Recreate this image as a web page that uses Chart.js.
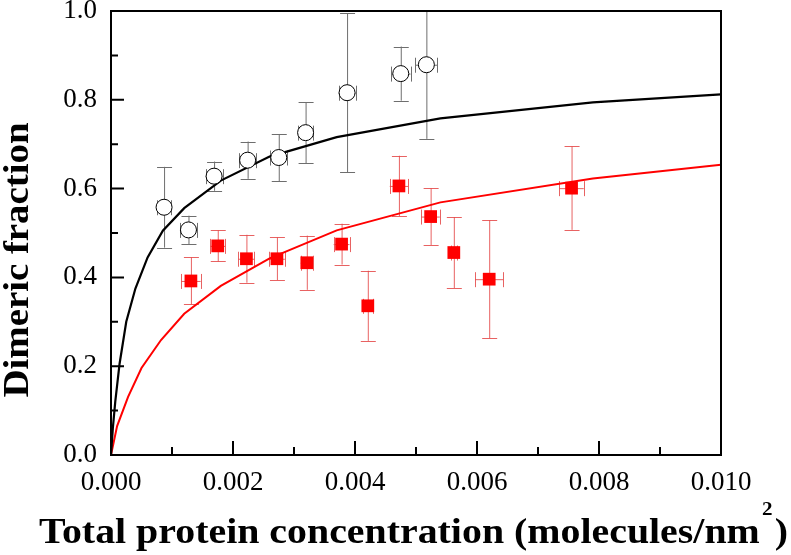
<!DOCTYPE html>
<html>
<head>
<meta charset="utf-8">
<script src="https://cdn.jsdelivr.net/npm/chart.js@4"></script>
<style>
html, body { margin: 0; padding: 0; background: #fff; }
</style>
</head>
<body>
<canvas id="c" width="791" height="555"></canvas>
<script>
// measured points (open circles, black)
const blackX = [0.00087, 0.00127, 0.00169, 0.00224, 0.00275, 0.00319, 0.00387, 0.00475, 0.00517];
const blackY = [0.558, 0.507, 0.628, 0.664, 0.670, 0.726, 0.816, 0.859, 0.879];
const blackYErr = [0.091, 0.032, 0.033, 0.042, 0.053, 0.069, 0.179, 0.061, 0.167];
const blackXErr = [0.00012, 0.00014, 0.00014, 0.00014, 0.00014, 0.00012, 0.00014, 0.00016, 0.00018];

// measured points (filled squares, red)
const redX = [0.00131, 0.00175, 0.00222, 0.00272, 0.00321, 0.00378, 0.00421, 0.00472, 0.00524, 0.00562, 0.00620, 0.00755];
const redY = [0.392, 0.471, 0.442, 0.442, 0.433, 0.475, 0.336, 0.606, 0.537, 0.456, 0.396, 0.601];
const redYErr = [0.053, 0.035, 0.054, 0.048, 0.061, 0.046, 0.079, 0.068, 0.064, 0.080, 0.133, 0.094];
const redXErr = [0.00016, 0.00012, 0.00013, 0.00013, 0.00010, 0.00013, 0.00008, 0.00015, 0.00015, 0.00005, 0.00023, 0.00020];

// fitted curves
const fitBlackX = [0, 0.00003, 0.00007, 0.00014, 0.00025, 0.0004, 0.0006, 0.00085, 0.0012, 0.0018, 0.0026, 0.0037, 0.0054, 0.0079, 0.01];
const fitBlackY = [0, 0.06, 0.12, 0.205, 0.30, 0.375, 0.445, 0.505, 0.556, 0.618, 0.672, 0.716, 0.758, 0.794, 0.812];
const fitRedX = [0, 0.0001, 0.00028, 0.0005, 0.00082, 0.0012, 0.0018, 0.0026, 0.0037, 0.0054, 0.0079, 0.01];
const fitRedY = [0, 0.065, 0.131, 0.196, 0.259, 0.318, 0.381, 0.443, 0.506, 0.569, 0.623, 0.654];

const xTitle = 'Total protein concentration (molecules/nm';
const xTitleSup = '2';
const yTitle = 'Dimeric fraction';

const pts = (xs, ys) => xs.map((x, i) => ({ x, y: ys[i] }));
const SERIF = '"Liberation Serif", "Times New Roman", serif';

// error bars, frame, inward ticks, titles
const decor = {
  id: 'decor',
  beforeDatasetsDraw(chart) {
    const { ctx, chartArea: a, scales: { x, y } } = chart;
    ctx.save();
    ctx.beginPath();
    ctx.rect(a.left, a.top, a.right - a.left, a.bottom - a.top);
    ctx.clip();
    chart.data.datasets.forEach(ds => {
      if (!ds.yErr) return;
      ctx.strokeStyle = ds.barColor;
      ctx.lineWidth = 1;
      ds.data.forEach((p, i) => {
        const px = x.getPixelForValue(p.x);
        const py = y.getPixelForValue(p.y);
        const t = y.getPixelForValue(p.y + ds.yErr[i]);
        const b = y.getPixelForValue(p.y - ds.yErr[i]);
        const l = x.getPixelForValue(p.x - ds.xErr[i]);
        const r = x.getPixelForValue(p.x + ds.xErr[i]);
        ctx.beginPath();
        ctx.moveTo(px + 0.5, t); ctx.lineTo(px + 0.5, b);
        ctx.moveTo(px - 7, Math.round(t) + 0.5); ctx.lineTo(px + 8, Math.round(t) + 0.5);
        ctx.moveTo(px - 7, Math.round(b) + 0.5); ctx.lineTo(px + 8, Math.round(b) + 0.5);
        ctx.moveTo(l, py + 0.5); ctx.lineTo(r, py + 0.5);
        ctx.moveTo(Math.round(l) + 0.5, py - 7); ctx.lineTo(Math.round(l) + 0.5, py + 8);
        ctx.moveTo(Math.round(r) + 0.5, py - 7); ctx.lineTo(Math.round(r) + 0.5, py + 8);
        ctx.stroke();
      });
    });
    ctx.restore();
  },
  afterDatasetsDraw(chart) {
    const { ctx, chartArea: a, scales: { x, y } } = chart;
    ctx.save();
    ctx.strokeStyle = '#000';
    ctx.lineWidth = 2;
    ctx.strokeRect(a.left, a.top, a.right - a.left, a.bottom - a.top);
    ctx.beginPath();
    const xt = x.ticks.map(t => t.value);
    xt.forEach((v, i) => {
      const px = x.getPixelForValue(v);
      ctx.moveTo(px, a.bottom); ctx.lineTo(px, a.bottom - 14);
      if (i < xt.length - 1) {
        const m = x.getPixelForValue((v + xt[i + 1]) / 2);
        ctx.moveTo(m, a.bottom); ctx.lineTo(m, a.bottom - 8);
      }
    });
    const yt = y.ticks.map(t => t.value);
    yt.forEach((v, i) => {
      const py = y.getPixelForValue(v);
      ctx.moveTo(a.left, py); ctx.lineTo(a.left + 13, py);
      if (i < yt.length - 1) {
        const m = y.getPixelForValue((v + yt[i + 1]) / 2);
        ctx.moveTo(a.left, m); ctx.lineTo(a.left + 7, m);
      }
    });
    ctx.stroke();
    ctx.restore();
  },
  afterDraw(chart) {
    const { ctx } = chart;
    ctx.save();
    ctx.fillStyle = '#000';
    ctx.textBaseline = 'alphabetic';
    ctx.textAlign = 'left';
    // x title with superscript, stretched to the width seen in the picture
    const big = 'bold 36px ' + SERIF, small = 'bold 19px ' + SERIF;
    ctx.font = big;
    const w1 = ctx.measureText(xTitle).width;
    const w3 = ctx.measureText(')').width;
    ctx.font = small;
    const w2 = ctx.measureText(xTitleSup).width;
    const total = w1 + w2 + w3 + 4;
    const k = 749 / total;
    ctx.save();
    ctx.translate(39, 543);
    ctx.scale(k, 1);
    ctx.font = big;
    ctx.fillText(xTitle, 0, 0);
    ctx.font = small;
    ctx.fillText(xTitleSup, w1 + 2, -28);
    ctx.font = big;
    ctx.fillText(')', w1 + w2 + 4, 0);
    ctx.restore();
    // y title
    ctx.font = big;
    const wy = ctx.measureText(yTitle).width;
    ctx.translate(28, 260);
    ctx.rotate(-Math.PI / 2);
    ctx.scale(275 / wy, 1);
    ctx.textAlign = 'center';
    ctx.fillText(yTitle, 0, 0);
    ctx.restore();
  }
};

new Chart(document.getElementById('c'), {
  type: 'scatter',
  data: {
    datasets: [
      {
        label: 'red data', data: pts(redX, redY), yErr: redYErr, xErr: redXErr,
        barColor: 'rgba(228,70,70,0.85)',
        pointStyle: 'rect', pointRadius: 9, pointHoverRadius: 9,
        backgroundColor: '#f00', borderColor: '#f00', borderWidth: 0
      },
      {
        label: 'black data', data: pts(blackX, blackY), yErr: blackYErr, xErr: blackXErr,
        barColor: '#6e6e6e',
        pointStyle: 'circle', pointRadius: 8, pointHoverRadius: 8,
        backgroundColor: '#fff', borderColor: '#000', borderWidth: 1
      },
      {
        label: 'black fit', data: pts(fitBlackX, fitBlackY), showLine: true,
        pointRadius: 0, borderColor: '#000', borderWidth: 2.2, tension: 0
      },
      {
        label: 'red fit', data: pts(fitRedX, fitRedY), showLine: true,
        pointRadius: 0, borderColor: '#f00', borderWidth: 2, tension: 0
      }
    ]
  },
  options: {
    responsive: false,
    animation: false,
    devicePixelRatio: 1,
    layout: { padding: { top: 11, right: 70, left: 0, bottom: 0 } },
    plugins: { legend: { display: false }, tooltip: { enabled: false } },
    scales: {
      x: {
        type: 'linear', min: 0, max: 0.01,
        ticks: { stepSize: 0.002, callback: v => v.toFixed(3), color: '#000', padding: 12,
                 font: { family: SERIF, size: 27 }, maxRotation: 0 },
        grid: { display: false, drawTicks: false },
        border: { display: false },
        afterFit: s => { s.height = 100; s.paddingLeft = 0; s.paddingRight = 0; }
      },
      y: {
        min: 0, max: 1,
        ticks: { stepSize: 0.2, callback: v => v.toFixed(1), color: '#000', padding: 14,
                 font: { family: SERIF, size: 27 } },
        grid: { display: false, drawTicks: false },
        border: { display: false },
        afterFit: s => { s.width = 111; s.paddingTop = 0; s.paddingBottom = 0; }
      }
    }
  },
  plugins: [decor]
});
</script>
</body>
</html>
